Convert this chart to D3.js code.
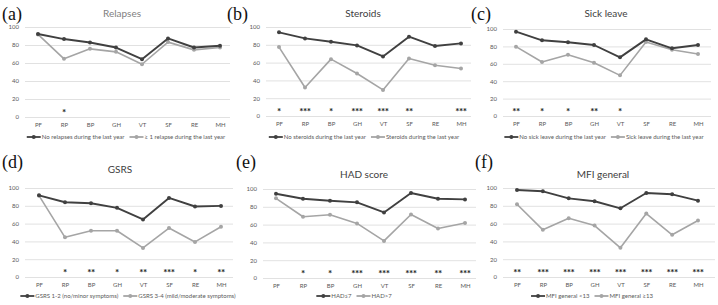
<!DOCTYPE html>
<html><head><meta charset="utf-8">
<script src="https://cdn.jsdelivr.net/npm/d3@7"></script>
<style>
body{margin:0;background:#fff;}
svg{display:block;}
text{font-family:Lato,"Open Sans",sans-serif;}
</style></head>
<body>
<svg id="c" width="718" height="305"></svg>
<script>
const categories = ["PF","RP","BP","GH","VT","SF","RE","MH"];
const yTicks = [0,20,40,60,80,100];

const relapsesNo  = [92.2,86.6,82.8,77.2,64.2,87.3,77.2,79.1];
const relapsesYes = [91.8,64.6,75.7,72.4,58.6,83.2,74.6,77.2];
const relapsesSig = ["","*","","","","","",""];

const steroidsNo  = [94.0,87.2,83.5,79.3,66.9,89.1,78.6,81.6];
const steroidsYes = [77.4,32.0,63.9,47.7,29.3,64.7,57.1,53.4];
const steroidsSig = ["*","***","*","***","***","**","","***"];

const sickNo  = [96.9,87.0,84.7,81.6,67.4,88.1,77.8,81.6];
const sickYes = [79.7,62.0,70.5,61.3,46.7,85.0,76.2,71.3];
const sickSig = ["**","*","*","**","*","","",""];

const gsrsLow  = [91.8,84.0,82.9,77.7,64.7,88.8,79.2,79.9];
const gsrsHigh = [91.4,44.6,52.0,52.0,32.7,55.0,39.4,56.5];
const gsrsSig  = ["","*","**","*","**","***","*","**"];

const hadLow  = [94.7,89.1,86.8,85.0,73.7,95.5,89.1,88.3];
const hadHigh = [89.5,68.8,71.0,61.3,41.7,71.4,55.6,61.7];
const hadSig  = ["","*","*","***","***","***","**","***"];

const mfiLow  = [97.8,96.3,88.4,85.1,77.2,94.4,92.9,85.8];
const mfiHigh = [81.7,53.0,66.0,57.8,32.8,71.3,47.4,63.4];
const mfiSig  = ["**","***","***","***","***","***","***","***"];

const panelLetters = ["(a)","(b)","(c)","(d)","(e)","(f)"];
const titles = ["Relapses","Steroids","Sick leave","GSRS","HAD score","MFI general"];
const legendA = ["No relapses during the last year","No steroids during the last year","No sick leave during the last year","GSRS 1-2 (no/minor symptoms)","HAD\u22647","MFI general <13"];
const legendB = ["\u2265 1 relapse during the last year","Steroids during the last year","Sick leave during the last year","GSRS 3-4 (mild/moderate symptoms)","HAD>7","MFI general \u226513"];
const seriesA = [relapsesNo,steroidsNo,sickNo,gsrsLow,hadLow,mfiLow];
const seriesB = [relapsesYes,steroidsYes,sickYes,gsrsHigh,hadHigh,mfiHigh];
const sigs = [relapsesSig,steroidsSig,sickSig,gsrsSig,hadSig,mfiSig];

// layout (pixel geometry per panel)
const layout = [
  {lx:2,  ly:20,  tx:122, ty:17,  gl:25,  gr:230, x0:38,  x1:220, y0:117, y100:27,  leg:137, lcx:126},
  {lx:227,ly:20,  tx:363, ty:17,  gl:266, gr:471, x0:279, x1:461, y0:116, y100:27,  leg:137, lcx:364},
  {lx:471,ly:20,  tx:606, ty:17,  gl:503, gr:711, x0:516, x1:698, y0:116, y100:29,  leg:137, lcx:604},
  {lx:2,  ly:168, tx:120, ty:173, gl:25,  gr:233, x0:39,  x1:221, y0:277, y100:188, leg:296, lcx:128},
  {lx:236,ly:168, tx:364, ty:178, gl:263, gr:476, x0:276, x1:465, y0:278, y100:189, leg:296, lcx:354},
  {lx:475,ly:168, tx:603, ty:178, gl:503, gr:715, x0:517, x1:698, y0:277, y100:188, leg:296, lcx:592}
];

const dark = "#404040", light = "#a5a5a5";
const svg = d3.select("#c");

layout.forEach((L, i) => {
  const g = svg.append("g");
  const x = d3.scalePoint().domain(categories).range([L.x0, L.x1]);
  const y = d3.scaleLinear().domain([0,100]).range([L.y0, L.y100]);

  // gridlines + y labels
  const ya = g.append("g").attr("transform", `translate(${L.gl},0)`)
    .call(d3.axisLeft(y).tickValues(yTicks).tickSize(-(L.gr - L.gl)).tickPadding(6));
  ya.select(".domain").remove();
  ya.selectAll(".tick line").attr("stroke", "#d9d9d9").attr("stroke-width", 0.8);
  ya.selectAll(".tick text").attr("fill", "#595959").style("font-size", "6px");

  // x labels
  const xa = g.append("g").attr("transform", `translate(0,${L.y0})`)
    .call(d3.axisBottom(x).tickSize(0).tickPadding(6));
  xa.select(".domain").remove();
  xa.selectAll(".tick text").attr("fill", "#595959").style("font-size", "6px");

  // panel letter
  g.append("text").attr("x", L.lx).attr("y", L.ly)
    .style("font-family", "'Liberation Serif','DejaVu Serif',serif")
    .style("font-size", "18px").attr("fill", "#111").text(panelLetters[i]);

  // title
  g.append("text").attr("x", L.tx).attr("y", L.ty).attr("text-anchor", "middle")
    .style("font-size", "10px").attr("fill", i === 0 ? "#7f7f7f" : "#404040").text(titles[i]);

  // lines
  const line = d3.line().x((d, j) => x(categories[j])).y(d => y(d));
  [[seriesB[i], light, 1.6], [seriesA[i], dark, 1.9]].forEach(([data, col, w]) => {
    g.append("path").datum(data).attr("d", line).attr("fill", "none")
      .attr("stroke", col).attr("stroke-width", w).attr("stroke-linejoin", "round");
    g.selectAll(null).data(data).enter().append("circle")
      .attr("cx", (d, j) => x(categories[j])).attr("cy", d => y(d))
      .attr("r", 2).attr("fill", col);
  });

  // significance stars
  g.selectAll(null).data(sigs[i]).enter().append("text")
    .attr("x", (d, j) => x(categories[j])).attr("y", y(1.5))
    .attr("text-anchor", "middle").style("font-size", "10px").style("font-weight", "bold")
    .style("letter-spacing", "-0.5px")
    .attr("fill", "#222").text(d => d);

  // legend
  const lg = g.append("g");
  let cx = 0;
  const items = [[legendA[i], dark], [legendB[i], light]];
  items.forEach(([lab, col], k) => {
    if (k > 0) cx += 5;
    lg.append("line").attr("x1", cx).attr("x2", cx + 14).attr("y1", 0).attr("y2", 0)
      .attr("stroke", col).attr("stroke-width", 1.8);
    lg.append("circle").attr("cx", cx + 7).attr("cy", 0).attr("r", 2).attr("fill", col);
    const t = lg.append("text").attr("x", cx + 15).attr("y", 2.2)
      .style("font-size", "6px").attr("fill", "#595959").text(lab);
    cx += 15 + t.node().getComputedTextLength();
  });
  lg.attr("transform", `translate(${L.lcx - cx / 2},${L.leg})`);
});
</script>
</body></html>
